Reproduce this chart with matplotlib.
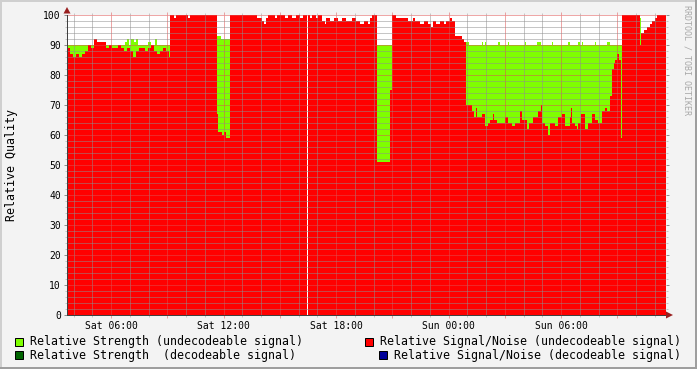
import matplotlib
matplotlib.use('Agg')
import matplotlib.pyplot as plt
import numpy as np
from matplotlib.patches import Rectangle, Polygon
from matplotlib.lines import Line2D
from matplotlib.ticker import MultipleLocator, FuncFormatter

# ---------------- data (time = minutes since Sat 00:00, step-wise values) -------------
sn_times = [219, 229, 238, 248, 258, 267, 277, 286, 296, 306, 315, 344, 354, 363, 382,
            392, 402, 411, 421, 430, 440, 450, 469, 478, 488, 498, 507, 517, 526, 536,
            546, 549, 562, 568, 606, 613, 699, 702, 715, 722, 728, 741, 827, 843, 850,
            856, 862, 885, 891, 917, 926, 939, 952, 965, 974, 987, 990, 997, 1003, 1016,
            1022, 1035, 1045, 1048, 1061, 1074, 1086, 1099, 1112, 1131, 1144, 1157, 1170,
            1182, 1189, 1195, 1211, 1253, 1259, 1272, 1310, 1326, 1333, 1349, 1362, 1374,
            1384, 1390, 1400, 1413, 1426, 1432, 1445, 1451, 1461, 1483, 1490, 1496, 1515,
            1522, 1528, 1531, 1547, 1557, 1566, 1573, 1582, 1586, 1595, 1621, 1630, 1643,
            1653, 1669, 1675, 1691, 1698, 1710, 1726, 1736, 1739, 1749, 1758, 1765, 1781,
            1790, 1803, 1813, 1829, 1832, 1835, 1845, 1851, 1854, 1864, 1877, 1886, 1899,
            1909, 1918, 1931, 1941, 1947, 1957, 1963, 1970, 1973, 1979, 1986, 1992, 1995,
            2053, 2056, 2066, 2075, 2085, 2091, 2101, 2107]
sn_values = [89, 87, 86, 87, 86, 87, 88, 90, 89, 92, 91, 89, 90, 89, 90,
             89, 88, 89, 88, 86, 88, 89, 88, 89, 90, 88, 87, 88, 89, 88,
             86, 100, 99, 100, 99, 100, 67, 61, 60, 61, 59, 100, 99, 98, 97,
             99, 100, 99, 100, 99, 100, 99, 100, 99, 100, np.nan, 100, 99, 100, 99,
             100, 98, 97, 99, 98, 99, 98, 99, 98, 99, 98, 97, 98,
             97, 99, 100, 51, 75, 100, 99, 98, 99, 98, 97, 98, 97,
             96, 98, 97, 98, 97, 98, 99, 98, 93, 92, 91, 70, 68,
             66, 69, 66, 67, 63, 64, 65, 67, 65, 64, 66, 64, 63,
             64, 68, 65, 62, 64, 66, 68, 70, 64, 63, 60, 64, 63,
             66, 67, 63, 66, 69, 64, 63, 62, 64, 67, 62, 64, 67,
             65, 64, 68, 69, 68, 73, 82, 84, 85, 87, 85, 59, 100,
             90, 94, 95, 96, 97, 98, 99, 100]

strength_times = [219, 405, 411, 418, 424, 434, 440, 446, 478, 488, 501, 507, 699, 712,
                  741, 987, 990, 1496, 1506, 1547, 1550, 1557, 1560, 1598, 1605, 1630,
                  1634, 1685, 1688, 1723, 1736, 1771, 1774, 1822, 1829, 1854, 1861, 1867,
                  1870, 1909, 1912, 1947, 1957, 2053, 2056]
strength_values = [90, 91, 92, 90, 92, 91, 92, 90, 91, 90, 92, 90, 93, 92,
                   90, np.nan, 90, 91, 90, 91, 90, 91, 90, 91, 90, 91,
                   90, 91, 90, 91, 90, 91, 90, 91, 90, 91, 90, 91,
                   90, 91, 90, 91, 90, 99, 90]

end_time = 2136

tick_minutes = [360, 720, 1080, 1440, 1800]
tick_labels = ["Sat 06:00", "Sat 12:00", "Sat 18:00", "Sun 00:00", "Sun 06:00"]

legend_left = ["Relative Strength (undecodeable signal)",
               "Relative Strength  (decodeable signal)"]
legend_right = ["Relative Signal/Noise (undecodeable signal)",
                "Relative Signal/Noise (decodeable signal)"]
color_strength_undec = '#7FFF00'
color_strength_dec = '#006400'
color_sn_undec = '#FF0000'
color_sn_dec = '#000099'

# ---------------- figure -------------
W, H = 697, 369
plt.rcParams['font.family'] = ['DejaVu Sans Mono']
fig = plt.figure(figsize=(W / 100, H / 100), dpi=100, facecolor='#F3F3F3')
ax = fig.add_axes([67 / W, 54 / H, 599 / W, 300 / H])
ax.set_facecolor('white')


def step_area(times, vals, color):
    edges = np.array(list(times) + [end_time], float)
    v = np.array(vals, float)
    ax.bar(edges[:-1], v, width=np.diff(edges), align='edge', color=color,
           linewidth=0, antialiased=False, zorder=2)


step_area(strength_times, strength_values, color_strength_undec)
step_area(sn_times, sn_values, color_sn_undec)

ax.set_xlim(sn_times[0], end_time)
ax.set_ylim(0, 100)

ax.xaxis.set_major_locator(MultipleLocator(180))
ax.xaxis.set_minor_locator(MultipleLocator(60))
lab = dict(zip(tick_minutes, tick_labels))
ax.xaxis.set_major_formatter(FuncFormatter(lambda v, p: lab.get(int(round(v)), '')))
ax.yaxis.set_major_locator(MultipleLocator(10))
ax.yaxis.set_minor_locator(MultipleLocator(2))

mgrid = (0.871, 0.314, 0.314, 0.5)
grid = (0.56, 0.56, 0.56, 0.45)
ax.set_axisbelow(False)
ax.grid(which='major', color=mgrid, linestyle=(0, (1, 1)), linewidth=0.72)
ax.grid(which='minor', color=grid, linestyle=(0, (1, 1)), linewidth=0.72)

ax.tick_params(which='both', direction='out', top=True, right=True,
               labeltop=False, labelright=False, width=0.72, labelsize=7)
ax.tick_params(which='major', length=2.2, color=mgrid, pad=2)
ax.tick_params(which='minor', length=1.5, color=grid)
ax.tick_params(axis='y', which='major', color='#909090', length=2.5, pad=2)

for s in ['top', 'right']:
    ax.spines[s].set_visible(False)
for s in ['left', 'bottom']:
    ax.spines[s].set_color('#404040')
    ax.spines[s].set_linewidth(0.72)
    ax.spines[s].set_zorder(4)


def px(x, y):
    return (x / W, 1 - y / H)


arrow_c = '#9A2020'
fig.add_artist(Polygon([px(63.5, 13.5), px(70.5, 13.5), px(67, 7)], closed=True,
                       transform=fig.transFigure, facecolor=arrow_c, edgecolor='none'))
fig.add_artist(Polygon([px(666, 311.5), px(666, 318.5), px(673, 315)], closed=True,
                       transform=fig.transFigure, facecolor=arrow_c, edgecolor='none'))

# frame shading
fig.add_artist(Line2D([0, 1], [1 - 0.75 / H] * 2, transform=fig.transFigure, color='#CFCFCF', lw=1.44))
fig.add_artist(Line2D([0.75 / W] * 2, [0, 1], transform=fig.transFigure, color='#CFCFCF', lw=1.44))
fig.add_artist(Line2D([0, 1], [0.75 / H] * 2, transform=fig.transFigure, color='#9E9E9E', lw=1.44))
fig.add_artist(Line2D([1 - 0.75 / W] * 2, [0, 1], transform=fig.transFigure, color='#9E9E9E', lw=1.44))

# y label
fig.text(12 / W, 1 - 165 / H, 'Relative Quality', rotation=90, ha='center', va='center',
         fontsize=8.4)
# watermark
fig.text(687 / W, 1 - 5 / H, 'RRDTOOL / TOBI OETIKER', rotation=270, ha='center', va='top',
         fontsize=6, color='#A8A8A8')

# legend
def legend_item(bx, by, tx, color, text):
    fig.add_artist(Rectangle(px(bx, by + 8), 8 / W, 8 / H, transform=fig.transFigure,
                             facecolor=color, edgecolor='black', lw=0.72))
    fig.text(tx / W, 1 - (by + 4) / H, text, ha='left', va='center', fontsize=8.33)


legend_item(15, 337.5, 30, color_strength_undec, legend_left[0])
legend_item(15, 351, 30, color_strength_dec, legend_left[1])
legend_item(365, 337.5, 380, color_sn_undec, legend_right[0])
legend_item(379, 351, 394, color_sn_dec, legend_right[1])

fig.savefig('out.png', dpi=100, facecolor=fig.get_facecolor())
